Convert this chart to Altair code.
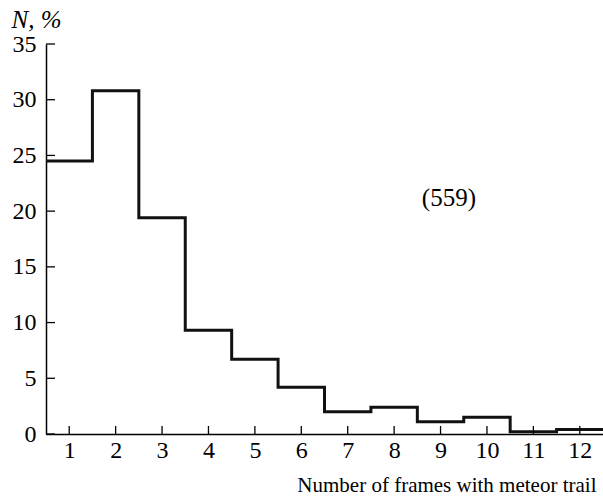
import altair as alt
import pandas as pd

frames = [1, 2, 3, 4, 5, 6, 7, 8, 9, 10, 11, 12]
percent = [24.5, 30.8, 19.4, 9.3, 6.7, 4.2, 2.0, 2.4, 1.1, 1.5, 0.2, 0.4]
y_ticks = [0, 5, 10, 15, 20, 25, 30, 35]
total_label = "(559)"

# step line: left edges of each bin, plus the right edge of the last bin
step_x = [f - 0.5 for f in frames] + [frames[-1] + 0.5]
step_y = percent + [percent[-1]]
step_df = pd.DataFrame({"x": step_x, "y": step_y})

FONT = "Liberation Serif"
H = 390
xs = alt.Scale(domain=[0.5, 12.5], nice=False, zero=False)
ys = alt.Scale(domain=[0, 35], nice=False)

x_axis = alt.Axis(
    values=frames, labelPadding=4,
    title="Number of frames with meteor trail", titleFontSize=21,
    titleAnchor="end", titleAlign="right", titleX=550, titleY=57,
    titleBaseline="alphabetic")
y_axis = alt.Axis(
    values=y_ticks, labelPadding=10,
    title="N, %", titleAngle=0, titleFontStyle="italic", titleFontSize=25,
    titleX=-35, titleY=-17, titleAlign="left", titleBaseline="alphabetic")

line = alt.Chart(step_df).mark_line(
    interpolate="step-after", color="#111111", strokeWidth=3, clip=True
).encode(
    x=alt.X("x:Q", scale=xs, axis=x_axis),
    y=alt.Y("y:Q", scale=ys, axis=y_axis),
)

xtick_df = pd.DataFrame({"x": frames})
xticks = alt.Chart(xtick_df).mark_rule(color="black", strokeWidth=1.3).encode(
    x=alt.X("x:Q", scale=xs, axis=x_axis),
    y=alt.value(H - 8), y2=alt.value(H),
)

ytick_df = pd.DataFrame({"y": y_ticks})
yticks = alt.Chart(ytick_df).mark_rule(color="black", strokeWidth=1.3).encode(
    y=alt.Y("y:Q", scale=ys, axis=y_axis),
    x=alt.value(0), x2=alt.value(9),
)

label = alt.Chart(pd.DataFrame({"t": [total_label]})).mark_text(
    font=FONT, fontSize=25, color="black", baseline="middle", align="center"
).encode(x=alt.XDatum(9.18), y=alt.YDatum(21.2), text="t:N")

chart = alt.layer(line, xticks, yticks, label).properties(
    width=557, height=H, background="white",
    padding={"left": 46, "top": 44, "right": 0, "bottom": 64},
    autosize=alt.AutoSizeParams(type="none"),
).configure_axis(
    labelFont=FONT, labelFontSize=24, labelColor="black",
    titleFont=FONT, titleFontWeight="normal", titleColor="black",
    domainColor="black", domainWidth=1.5, tickSize=0, grid=False, labelFlush=False,
).configure_view(stroke=None)

chart.save("out.html", embed_options={"renderer": "svg", "actions": False})
